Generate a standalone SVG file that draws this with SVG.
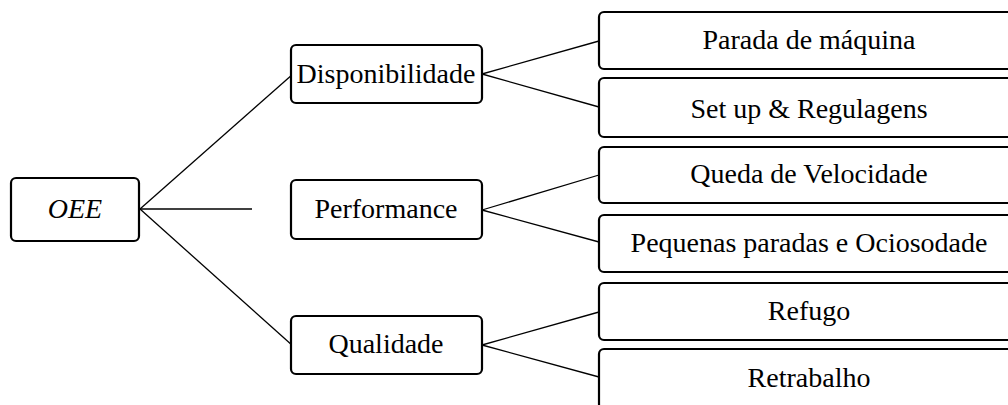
<svg xmlns="http://www.w3.org/2000/svg" width="1008" height="405" viewBox="0 0 1008 405">
<style>
.box{fill:#fff;stroke:#000;stroke-width:2.2}
.t{font-family:"Liberation Serif","Times New Roman",serif;font-size:28px;fill:#000;text-anchor:middle}
.c{stroke:#000;stroke-width:1.3;fill:none}
</style>
<rect width="1008" height="405" fill="#fff"/>
<g id="connectors">
<line class="c" x1="140" y1="209" x2="293" y2="74"/>
<line class="c" x1="140" y1="209" x2="252" y2="209"/>
<line class="c" x1="140" y1="209" x2="293" y2="346"/>
<line class="c" x1="482" y1="74" x2="599" y2="41"/>
<line class="c" x1="482" y1="74" x2="599" y2="107"/>
<line class="c" x1="482" y1="210" x2="599" y2="175"/>
<line class="c" x1="482" y1="210" x2="599" y2="242"/>
<line class="c" x1="482" y1="345" x2="599" y2="312"/>
<line class="c" x1="482" y1="345" x2="599" y2="377"/>
</g>
<g id="oee"><rect class="box" x="11" y="178" width="128" height="63" rx="5"/><text class="t" x="75" y="218" font-style="italic">OEE</text></g>
<g id="disponibilidade"><rect class="box" x="291" y="45" width="191" height="58" rx="5"/><text class="t" x="386" y="83">Disponibilidade</text></g>
<g id="performance"><rect class="box" x="291" y="180" width="191" height="59" rx="5"/><text class="t" x="386" y="218">Performance</text></g>
<g id="qualidade"><rect class="box" x="291" y="316" width="191" height="58" rx="5"/><text class="t" x="386" y="353">Qualidade</text></g>
<g id="parada"><rect class="box" x="599" y="12" width="420" height="57" rx="5"/><text class="t" x="809" y="49">Parada de máquina</text></g>
<g id="setup"><rect class="box" x="599" y="78" width="420" height="59" rx="5"/><text class="t" x="809" y="118">Set up &amp; Regulagens</text></g>
<g id="queda"><rect class="box" x="599" y="147" width="420" height="56" rx="5"/><text class="t" x="809" y="183">Queda de Velocidade</text></g>
<g id="pequenas"><rect class="box" x="599" y="215" width="420" height="57" rx="5"/><text class="t" x="809" y="252">Pequenas paradas e Ociosodade</text></g>
<g id="refugo"><rect class="box" x="599" y="283" width="420" height="57" rx="5"/><text class="t" x="809" y="320">Refugo</text></g>
<g id="retrabalho"><rect class="box" x="599" y="349" width="420" height="60" rx="5"/><text class="t" x="809" y="387">Retrabalho</text></g>
</svg>
